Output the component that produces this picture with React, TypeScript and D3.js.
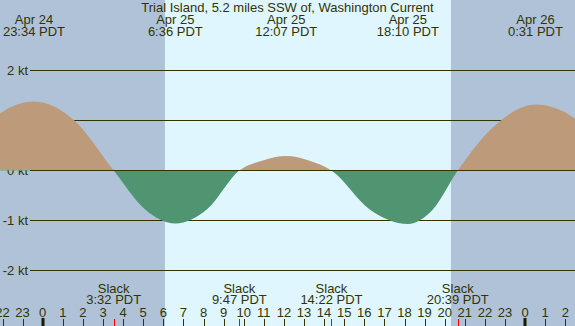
import React from "react";
import * as d3 from "d3";

const W = 575;
const H = 326;

// hours are counted from Apr 25 00:00 PDT; speeds in knots
const curveHours = [-4.4, -2.42, -0.433, 1.55, 3.533, 5.07, 6.6, 8.19, 9.783, 10.95, 12.117, 13.24, 14.367, 16.27, 18.167, 19.41, 20.65, 22.58, 24.517, 26.48, 28.7];
const curveKnots = [0, 1.05, 1.38, 1.01, 0, -0.77, -1.06, -0.77, 0, 0.2, 0.29, 0.2, 0, -0.78, -1.07, -0.78, 0, 0.93, 1.32, 1.04, 0];

const maxHours = [-0.433, 6.6, 12.117, 18.167, 24.517];
const maxDates = ["Apr 24", "Apr 25", "Apr 25", "Apr 25", "Apr 26"];
const maxTimes = ["23:34 PDT", "6:36 PDT", "12:07 PDT", "18:10 PDT", "0:31 PDT"];

const slackHours = [3.533, 9.783, 14.367, 20.65];
const slackTimes = ["3:32 PDT", "9:47 PDT", "14:22 PDT", "20:39 PDT"];

const sunrise = 6.08;
const sunset = 20.31;

const ktTicks = [2, 1, 0, -1, -2];
const hourTicks = [-2, -1, 0, 1, 2, 3, 4, 5, 6, 7, 8, 9, 10, 11, 12, 13, 14, 15, 16, 17, 18, 19, 20, 21, 22, 23, 24, 25, 26];

const title = "Trial Island, 5.2 miles SSW of, Washington Current";

const ink = "#333300";
const font = "'Liberation Sans', Arial, sans-serif";

export default function App() {
  const x = d3.scaleLinear().domain([0, 24]).range([42.7, 525.1]);
  const y = d3.scaleLinear().domain([-2, 2]).range([270.5, 70.5]);

  const pts = curveHours.map((h, i) => [h, curveKnots[i]] as [number, number]);
  const area = d3
    .area<[number, number]>()
    .x(d => x(d[0]))
    .y0(y(0))
    .y1(d => y(d[1]))
    .curve(d3.curveMonotoneX);
  const path = area(pts) || "";

  return (
    <svg
      width={W}
      height={H}
      style={{ position: "absolute", left: 0, top: 0, display: "block" }}
      fontFamily={font}
      fontSize={13}
    >
      <defs>
        <clipPath id="pos">
          <rect x={0} y={0} width={W} height={y(0)} />
        </clipPath>
        <clipPath id="neg">
          <rect x={0} y={y(0)} width={W} height={H - y(0)} />
        </clipPath>
      </defs>

      <rect x={0} y={0} width={W} height={H} fill="#afc2d8" />
      <rect x={x(sunrise)} y={0} width={x(sunset) - x(sunrise)} height={H} fill="#dff6fe" />

      {ktTicks.map(v => (
        <g key={v}>
          <line x1={30} x2={W} y1={y(v)} y2={y(v)} stroke={ink} strokeWidth={1} />
          <text x={28} y={y(v) + 4.5} textAnchor="end" fill={ink}>
            {v} kt
          </text>
        </g>
      ))}

      <path d={path} fill="#bd9b7a" clipPath="url(#pos)" />
      <path d={path} fill="#4f9572" clipPath="url(#neg)" />
      <line x1={30} x2={W} y1={y(0)} y2={y(0)} stroke={ink} strokeWidth={1} />

      <text x={W / 2} y={12} textAnchor="middle" fill={ink}>
        {title}
      </text>
      {maxHours.map((h, i) => (
        <g key={"m" + i}>
          <text x={x(h)} y={24} textAnchor="middle" fill={ink}>
            {maxDates[i]}
          </text>
          <text x={x(h)} y={36} textAnchor="middle" fill={ink}>
            {maxTimes[i]}
          </text>
        </g>
      ))}

      {slackHours.map((h, i) => (
        <g key={"s" + i}>
          <text x={x(h)} y={292.5} textAnchor="middle" fill={ink}>
            Slack
          </text>
          <text x={x(h)} y={303.5} textAnchor="middle" fill={ink}>
            {slackTimes[i]}
          </text>
        </g>
      ))}

      {hourTicks.map(h => {
        const midnight = h % 24 === 0;
        const px = Math.round(x(h));
        return (
          <g key={"h" + h}>
            <text x={x(h)} y={317} textAnchor="middle" fill={ink}>
              {((h % 24) + 24) % 24}
            </text>
            {midnight ? (
              <rect x={px - 1.5} y={318} width={3} height={8} fill="#1a1a00" />
            ) : (
              <line x1={px + 0.5} x2={px + 0.5} y1={319} y2={H} stroke={ink} strokeWidth={1} />
            )}
          </g>
        );
      })}

      {slackHours.map((h, i) => (
        <line
          key={"r" + i}
          x1={Math.round(x(h)) + 0.5}
          x2={Math.round(x(h)) + 0.5}
          y1={319}
          y2={H}
          stroke="#ff0000"
          strokeWidth={1}
        />
      ))}
    </svg>
  );
}
